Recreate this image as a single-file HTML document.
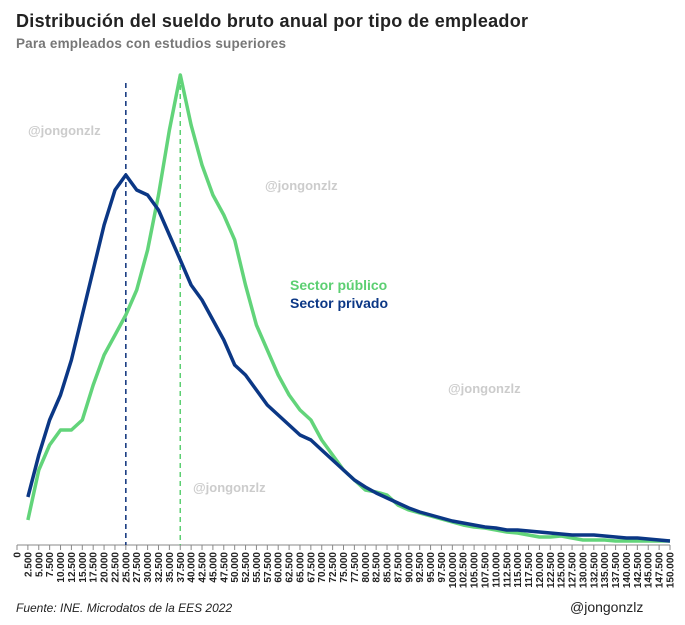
<!DOCTYPE html>
<html><head><meta charset="utf-8"><style>
body{margin:0;background:#fff;font-family:"Liberation Sans",sans-serif;}
#wrap{position:relative;width:685px;height:625px;overflow:hidden}
</style></head><body>
<div id="wrap">
<svg id="chart" width="685" height="625"></svg>
</div>
<script>
const categories=[];for(let i=0;i<=60;i++)categories.push(i*2500);
const publicSector=[null,25,75,100,115,115,125,160,190,210,230,255,295,350,415,470,420,380,350,330,305,260,220,195,170,150,135,125,105,90,75,65,55,53,50,40,35,32,29,26,23,20,18,17,15,13,12,10,8,8,9,7,5,5,5,4,4,4,4,4,4];
const privateSector=[null,48,90,125,150,185,230,275,320,355,370,355,350,335,310,285,260,245,225,205,180,170,155,140,130,120,110,105,95,85,75,65,58,52,47,42,37,33,30,27,24,22,20,18,17,15,15,14,13,12,11,10,10,10,9,8,7,7,6,5,4];
const tickLabels=categories.map(v=>v===0?"0":v.toLocaleString("en-US").replace(/,/g,"."));
const medianPublic=37500, medianPrivate=25000;
const NS="http://www.w3.org/2000/svg";
const svg=document.getElementById('chart');
const X=v=>17+v/150000*653, Y=v=>545-v;
function mk(t,a){const e=document.createElementNS(NS,t);for(const k in a)e.setAttribute(k,a[k]);svg.appendChild(e);return e;}
function txt(s,a){const e=mk('text',a);e.textContent=s;return e;}
let e;
e=txt("Distribución del sueldo bruto anual por tipo de empleador",{x:16,y:27,"font-size":"18","font-weight":"bold",fill:"#222",textLength:"512"});

e=txt("Para empleados con estudios superiores",{x:16,y:48,"font-size":"13.5","font-weight":"bold",fill:"#777",textLength:"270"});

[[28,135],[265,190],[448,393],[193,492]].forEach(p=>{e=txt("@jongonzlz",{x:p[0],y:p[1],"font-size":"13","font-weight":"bold",fill:"#ccc"});
});
e=mk('line',{x1:X(0),x2:X(150000),y1:545,y2:545,stroke:"#888","stroke-width":1});

categories.forEach((c,i)=>{
 e=mk('line',{x1:X(c),x2:X(c),y1:545,y2:550,stroke:"#888"});
 
 e=txt(tickLabels[i],{x:0,y:0,"font-size":"10","font-weight":"bold",fill:"#222","text-anchor":"end",transform:`translate(${X(c)+3.5},552) rotate(-90)`});
 
});
e=mk('line',{x1:X(medianPrivate),x2:X(medianPrivate),y1:83,y2:545,stroke:"#0b2f7a","stroke-width":1.5,"stroke-dasharray":"5,4"});

e=mk('line',{x1:X(medianPublic),x2:X(medianPublic),y1:85,y2:545,stroke:"#5ccf72","stroke-width":1.5,"stroke-dasharray":"5,4"});

function path(arr){let d="";arr.forEach((v,i)=>{if(v==null)return;d+=(d?"L":"M")+X(categories[i]).toFixed(1)+","+Y(v).toFixed(1);});return d;}
e=mk('path',{d:path(publicSector),fill:"none",stroke:"#62d47a","stroke-width":3.5,"stroke-linejoin":"round"});

e=mk('path',{d:path(privateSector),fill:"none",stroke:"#0b3785","stroke-width":3.5,"stroke-linejoin":"round"});

e=txt("Sector público",{x:290,y:290,"font-size":"14","font-weight":"bold",fill:"#5ccf72"});

e=txt("Sector privado",{x:290,y:308,"font-size":"14","font-weight":"bold",fill:"#0b3785"});

e=txt("Fuente: INE. Microdatos de la EES 2022",{x:16,y:612,"font-size":"12","font-style":"italic",fill:"#222"});

e=txt("@jongonzlz",{x:570,y:612,"font-size":"14",fill:"#222"});

</script>
</body></html>
